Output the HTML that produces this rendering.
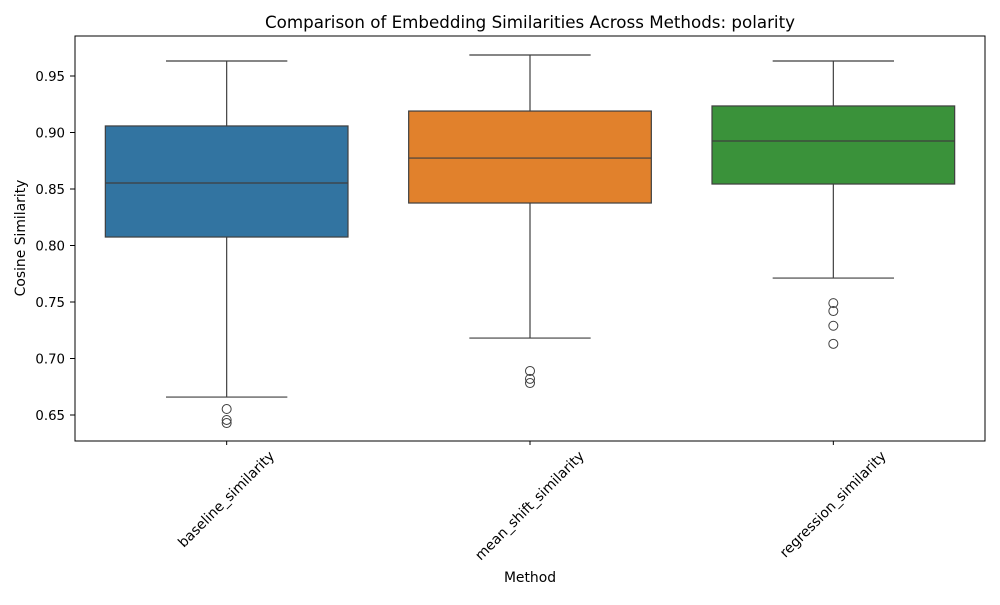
<!DOCTYPE html>
<html><head><meta charset="utf-8"><style>
body{margin:0;background:#fff;}
svg text{font-family:"DejaVu Sans","Liberation Sans",sans-serif;fill:#000;}
</style></head><body>
<svg id="chart" width="1000" height="600">
<text x="530" y="28" font-size="16.7" text-anchor="middle">Comparison of Embedding Similarities Across Methods: polarity</text>
<g id="plot"></g>
<text x="530" y="582" font-size="13.9" text-anchor="middle">Method</text>
<text transform="translate(25,238) rotate(-90)" font-size="13.9" text-anchor="middle">Cosine Similarity</text>
</svg>
<script>
const categories=["baseline_similarity","mean_shift_similarity","regression_similarity"];
const colors=["#3274a1","#e1812c","#3a923a"];
const whiskerLow=[0.6659,0.7181,0.7712];
const q1=[0.8075,0.8376,0.8544];
const median=[0.8553,0.8774,0.8925];
const q3=[0.9058,0.919,0.9235];
const whiskerHigh=[0.9633,0.9686,0.9633];
const outliers=[[0.6553,0.6456,0.6429],[0.689,0.682,0.6783],[0.749,0.742,0.729,0.713]];
const yTicks=[0.65,0.70,0.75,0.80,0.85,0.90,0.95];
const L=75,R=985,T=36,B=441,yMin=0.627,yMax=0.9854;
const NS="http://www.w3.org/2000/svg";
const g=document.getElementById('plot');
const y=v=>B-(v-yMin)/(yMax-yMin)*(B-T);
const step=(R-L)/categories.length;
const x=i=>L+step*(i+0.5);
function mk(t,a){const e=document.createElementNS(NS,t);for(const k in a)e.setAttribute(k,a[k]);g.appendChild(e);return e;}
const ln="#3f3f3f";
categories.forEach((c,i)=>{
 const cx=x(i),w=step*0.8,cap=w/2;
 let e=mk('line',{x1:cx,x2:cx,y1:y(whiskerLow[i]),y2:y(q1[i]),stroke:ln,'stroke-width':1.2});
 
 e=mk('line',{x1:cx,x2:cx,y1:y(q3[i]),y2:y(whiskerHigh[i]),stroke:ln,'stroke-width':1.2});
 
 e=mk('line',{x1:cx-cap/2,x2:cx+cap/2,y1:y(whiskerLow[i]),y2:y(whiskerLow[i]),stroke:ln,'stroke-width':1.2});
 
 e=mk('line',{x1:cx-cap/2,x2:cx+cap/2,y1:y(whiskerHigh[i]),y2:y(whiskerHigh[i]),stroke:ln,'stroke-width':1.2});
 
 e=mk('rect',{x:cx-w/2,y:y(q3[i]),width:w,height:y(q1[i])-y(q3[i]),fill:colors[i],stroke:ln,'stroke-width':1.2});
 
 e=mk('line',{x1:cx-w/2,x2:cx+w/2,y1:y(median[i]),y2:y(median[i]),stroke:ln,'stroke-width':1.2});
 
 outliers[i].forEach(v=>{const o=mk('circle',{cx:cx,cy:y(v),r:4.5,fill:'none',stroke:ln,'stroke-width':1});
  });
 e=mk('line',{x1:cx,x2:cx,y1:B,y2:B+4,stroke:'#000'});
 
 const t=mk('text',{x:0,y:4,'font-size':13.9,'text-anchor':'middle'});
 t.textContent=c;
 const len=t.getComputedTextLength();
 t.setAttribute('transform',`translate(${cx},${B+13+len/2.83}) rotate(-45)`);
});
yTicks.forEach(v=>{
 let e=mk('line',{x1:L-5,x2:L,y1:y(v),y2:y(v),stroke:'#000'});
 
 const t=mk('text',{x:L-10,y:y(v)+5,'font-size':13.3,'text-anchor':'end'});
 t.textContent=v.toFixed(2);
});
const f=mk('rect',{x:L,y:T,width:R-L,height:B-T,fill:'none',stroke:'#000','stroke-width':1});

</script>
</body></html>
